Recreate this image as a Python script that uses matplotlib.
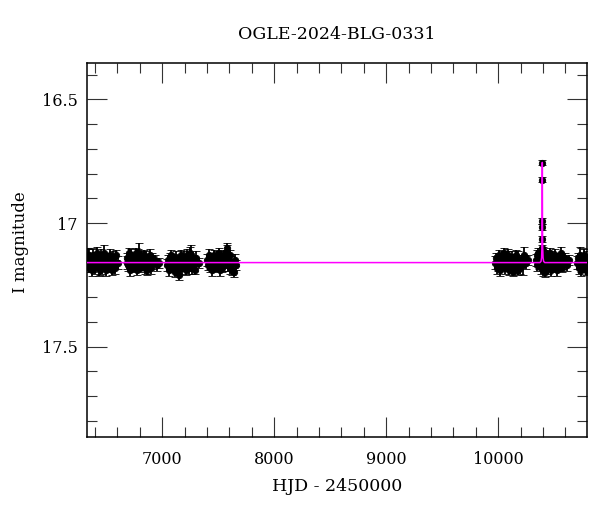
import matplotlib
matplotlib.use("Agg")
import matplotlib.pyplot as plt
from matplotlib.ticker import MultipleLocator, FuncFormatter

plt.rcParams['font.family'] = ['DejaVu Serif']

title = "OGLE-2024-BLG-0331"
xlabel = "HJD - 2450000"
ylabel = "I magnitude"

# ---- observing seasons (HJD - 2450000, I mag, error) ----
s1_t = [6336, 6342, 6349, 6357, 6364, 6370, 6379, 6385, 6393, 6399, 6408, 6414,
        6421, 6428, 6435, 6441, 6450, 6456, 6463, 6471, 6477, 6485, 6492, 6499,
        6506, 6514, 6521, 6529, 6536, 6544, 6552, 6559, 6567, 6576, 6588, 6603]
s1_m = [17.14, 17.13, 17.18, 17.16, 17.14, 17.19, 17.17, 17.13, 17.16, 17.18, 17.14, 17.12,
        17.17, 17.15, 17.17, 17.19, 17.13, 17.16, 17.18, 17.14, 17.12, 17.17, 17.15, 17.19,
        17.14, 17.16, 17.18, 17.13, 17.17, 17.15, 17.19, 17.14, 17.16, 17.18, 17.13, 17.16]
s1_e = [0.04, 0.025, 0.02, 0.025, 0.02, 0.025, 0.02, 0.025, 0.02, 0.025, 0.02, 0.025,
        0.02, 0.025, 0.045, 0.02, 0.025, 0.02, 0.025, 0.02, 0.03, 0.025, 0.02, 0.025,
        0.02, 0.025, 0.02, 0.025, 0.02, 0.025, 0.02, 0.025, 0.02, 0.025, 0.02, 0.025]

s2_t = [6681, 6688, 6695, 6703, 6710, 6717, 6724, 6732, 6739, 6746, 6754, 6761,
        6768, 6776, 6783, 6790, 6798, 6805, 6812, 6820, 6827, 6834, 6842, 6849,
        6856, 6864, 6871, 6878, 6886, 6893, 6901, 6910, 6921, 6935, 6952, 6972]
s2_m = [17.16, 17.14, 17.17, 17.12, 17.19, 17.15, 17.13, 17.18, 17.16, 17.14, 17.17, 17.12,
        17.15, 17.19, 17.13, 17.12, 17.16, 17.18, 17.14, 17.17, 17.15, 17.13, 17.18, 17.16,
        17.14, 17.19, 17.15, 17.17, 17.13, 17.16, 17.18, 17.14, 17.16, 17.15, 17.17, 17.16]
s2_e = [0.025, 0.02, 0.025, 0.02, 0.025, 0.02, 0.025, 0.02, 0.025, 0.02, 0.025, 0.02,
        0.025, 0.02, 0.025, 0.04, 0.025, 0.02, 0.025, 0.02, 0.025, 0.02, 0.025, 0.02,
        0.025, 0.02, 0.025, 0.02, 0.025, 0.02, 0.025, 0.02, 0.025, 0.02, 0.025, 0.02]

s3_t = [7046, 7053, 7060, 7068, 7075, 7082, 7090, 7097, 7104, 7112, 7119, 7126,
        7134, 7141, 7148, 7156, 7163, 7170, 7178, 7185, 7192, 7200, 7207, 7214,
        7222, 7229, 7236, 7244, 7251, 7258, 7266, 7273, 7281, 7290, 7304, 7326]
s3_m = [17.17, 17.15, 17.19, 17.14, 17.17, 17.13, 17.16, 17.18, 17.15, 17.20, 17.14, 17.17,
        17.16, 17.19, 17.21, 17.15, 17.17, 17.13, 17.18, 17.16, 17.14, 17.17, 17.15, 17.19,
        17.13, 17.16, 17.18, 17.14, 17.12, 17.13, 17.18, 17.15, 17.17, 17.19, 17.14, 17.16]
s3_e = [0.025, 0.02, 0.025, 0.02, 0.025, 0.02, 0.025, 0.02, 0.025, 0.02, 0.025, 0.02,
        0.025, 0.02, 0.02, 0.02, 0.025, 0.02, 0.025, 0.02, 0.025, 0.02, 0.025, 0.02,
        0.025, 0.02, 0.025, 0.02, 0.025, 0.04, 0.025, 0.02, 0.025, 0.015, 0.025, 0.02]

s4_t = [7401, 7408, 7415, 7422, 7429, 7436, 7443, 7450, 7457, 7464, 7471, 7478,
        7485, 7492, 7499, 7506, 7513, 7520, 7527, 7534, 7541, 7548, 7555, 7562,
        7569, 7576, 7580, 7587, 7594, 7601, 7609, 7617, 7626, 7636, 7647, 7659]
s4_m = [17.15, 17.17, 17.13, 17.18, 17.16, 17.14, 17.19, 17.15, 17.17, 17.13, 17.16, 17.18,
        17.14, 17.17, 17.15, 17.12, 17.19, 17.16, 17.14, 17.18, 17.15, 17.13, 17.17, 17.16,
        17.14, 17.12, 17.10, 17.17, 17.15, 17.18, 17.13, 17.16, 17.19, 17.20, 17.15, 17.17]
s4_e = [0.025, 0.02, 0.025, 0.02, 0.025, 0.02, 0.025, 0.02, 0.025, 0.02, 0.025, 0.02,
        0.025, 0.02, 0.025, 0.02, 0.025, 0.02, 0.025, 0.02, 0.025, 0.02, 0.025, 0.02,
        0.025, 0.03, 0.02, 0.025, 0.02, 0.025, 0.02, 0.025, 0.02, 0.02, 0.025, 0.02]

s5_t = [9972, 9979, 9986, 9994, 10001, 10009, 10016, 10024, 10031, 10039, 10046, 10054,
        10061, 10069, 10076, 10084, 10091, 10099, 10106, 10114, 10121, 10129, 10134, 10142,
        10149, 10157, 10164, 10172, 10180, 10189, 10198, 10208, 10219, 10230, 10246, 10268]
s5_m = [17.16, 17.14, 17.18, 17.15, 17.17, 17.13, 17.19, 17.16, 17.14, 17.17, 17.15, 17.12,
        17.18, 17.16, 17.14, 17.17, 17.13, 17.19, 17.15, 17.17, 17.14, 17.16, 17.20, 17.18,
        17.15, 17.13, 17.17, 17.19, 17.14, 17.16, 17.18, 17.15, 17.17, 17.13, 17.16, 17.15]
s5_e = [0.025, 0.02, 0.025, 0.02, 0.025, 0.02, 0.025, 0.02, 0.025, 0.02, 0.025, 0.02,
        0.025, 0.02, 0.025, 0.02, 0.025, 0.02, 0.025, 0.02, 0.025, 0.02, 0.015, 0.02,
        0.025, 0.02, 0.025, 0.02, 0.025, 0.02, 0.025, 0.02, 0.04, 0.035, 0.025, 0.02]

s6_t = [10336, 10343, 10350, 10357, 10364, 10371, 10378, 10383, 10400, 10405, 10412, 10419,
        10426, 10433, 10440, 10447, 10454, 10461, 10468, 10475, 10482, 10489, 10496, 10503,
        10510, 10518, 10526, 10534, 10542, 10551, 10560, 10570, 10582, 10596, 10613, 10633]
s6_m = [17.15, 17.13, 17.17, 17.12, 17.16, 17.14, 17.18, 17.15, 17.19, 17.17, 17.14, 17.20,
        17.16, 17.13, 17.18, 17.15, 17.17, 17.12, 17.19, 17.16, 17.14, 17.17, 17.15, 17.18,
        17.13, 17.16, 17.19, 17.14, 17.17, 17.15, 17.12, 17.18, 17.16, 17.14, 17.17, 17.15]
s6_e = [0.025, 0.02, 0.025, 0.02, 0.025, 0.02, 0.025, 0.02, 0.025, 0.02, 0.025, 0.02,
        0.025, 0.02, 0.025, 0.02, 0.025, 0.02, 0.025, 0.02, 0.025, 0.02, 0.025, 0.02,
        0.025, 0.02, 0.025, 0.02, 0.025, 0.02, 0.025, 0.02, 0.025, 0.02, 0.025, 0.02]

s7_t = [10706, 10712, 10718, 10724, 10730, 10736, 10742, 10748, 10754, 10760, 10766, 10772,
        10778, 10784, 10790, 10796, 10802, 10808]
s7_m = [17.16, 17.14, 17.18, 17.15, 17.13, 17.17, 17.19, 17.14, 17.16, 17.18, 17.13, 17.17,
        17.15, 17.19, 17.14, 17.16, 17.18, 17.15]
s7_e = [0.025, 0.02, 0.025, 0.02, 0.035, 0.02, 0.025, 0.02, 0.025, 0.02, 0.025, 0.02,
        0.025, 0.02, 0.025, 0.02, 0.025, 0.02]

# ---- points on the event peak ----
peak_t = [10387.0, 10388.6, 10390.0, 10391.1, 10392.0, 10393.0, 10394.0, 10395.2]
peak_m = [17.13, 17.10, 17.063, 17.015, 16.99, 16.826, 16.756, 17.11]
peak_e = [0.015, 0.012, 0.012, 0.012, 0.012, 0.01, 0.01, 0.015]

# ---- microlensing model curve ----
model_t = [6325, 10372, 10382, 10387, 10390, 10392, 10393.5, 10395, 10397, 10400, 10405, 10415, 10800]
model_m = [17.16, 17.16, 17.155, 17.14, 17.10, 17.00, 16.755, 17.00, 17.10, 17.14, 17.155, 17.16, 17.16]

seasons = [(s1_t, s1_m, s1_e), (s2_t, s2_m, s2_e), (s3_t, s3_m, s3_e),
           (s4_t, s4_m, s4_e), (s5_t, s5_m, s5_e), (s6_t, s6_m, s6_e),
           (s7_t, s7_m, s7_e), (peak_t, peak_m, peak_e)]

fig = plt.figure(figsize=(6.0, 5.12), dpi=100)
ax = fig.add_axes([0.1445, 0.147, 0.8343, 0.7305])

for t, m, e in seasons:
    ax.errorbar(t, m, yerr=e, fmt='o', color='black', ms=4.6, mew=0.6,
                elinewidth=1.3, capsize=3.2, capthick=1.3, zorder=2)

ax.plot(model_t, model_m, color='#ff00ff', lw=1.1, zorder=3)

ax.set_xlim(6325, 10795)
ax.set_ylim(17.864, 16.352)

ax.xaxis.set_major_locator(MultipleLocator(1000))
ax.xaxis.set_minor_locator(MultipleLocator(200))
ax.yaxis.set_major_locator(MultipleLocator(0.5))
ax.yaxis.set_minor_locator(MultipleLocator(0.1))
ax.yaxis.set_major_formatter(FuncFormatter(lambda v, p: f"{v:g}"))

ax.tick_params(which='both', direction='in', top=True, right=True, width=0.8, color='#333333')
ax.tick_params(which='major', length=14.4)
ax.tick_params(which='minor', length=7.2)
ax.tick_params(axis='x', which='major', pad=10, labelsize=11.5)
ax.tick_params(axis='y', which='major', pad=6.5, labelsize=11.5)
for sp in ax.spines.values():
    sp.set_linewidth(1.1)

ax.set_title(title, fontsize=12.5, pad=17)
ax.set_xlabel(xlabel, fontsize=12.5, labelpad=7.5)
ax.set_ylabel(ylabel, fontsize=12, labelpad=9.5)
ax.yaxis.label.set_y(0.519)

fig.savefig("out.png", dpi=100)
